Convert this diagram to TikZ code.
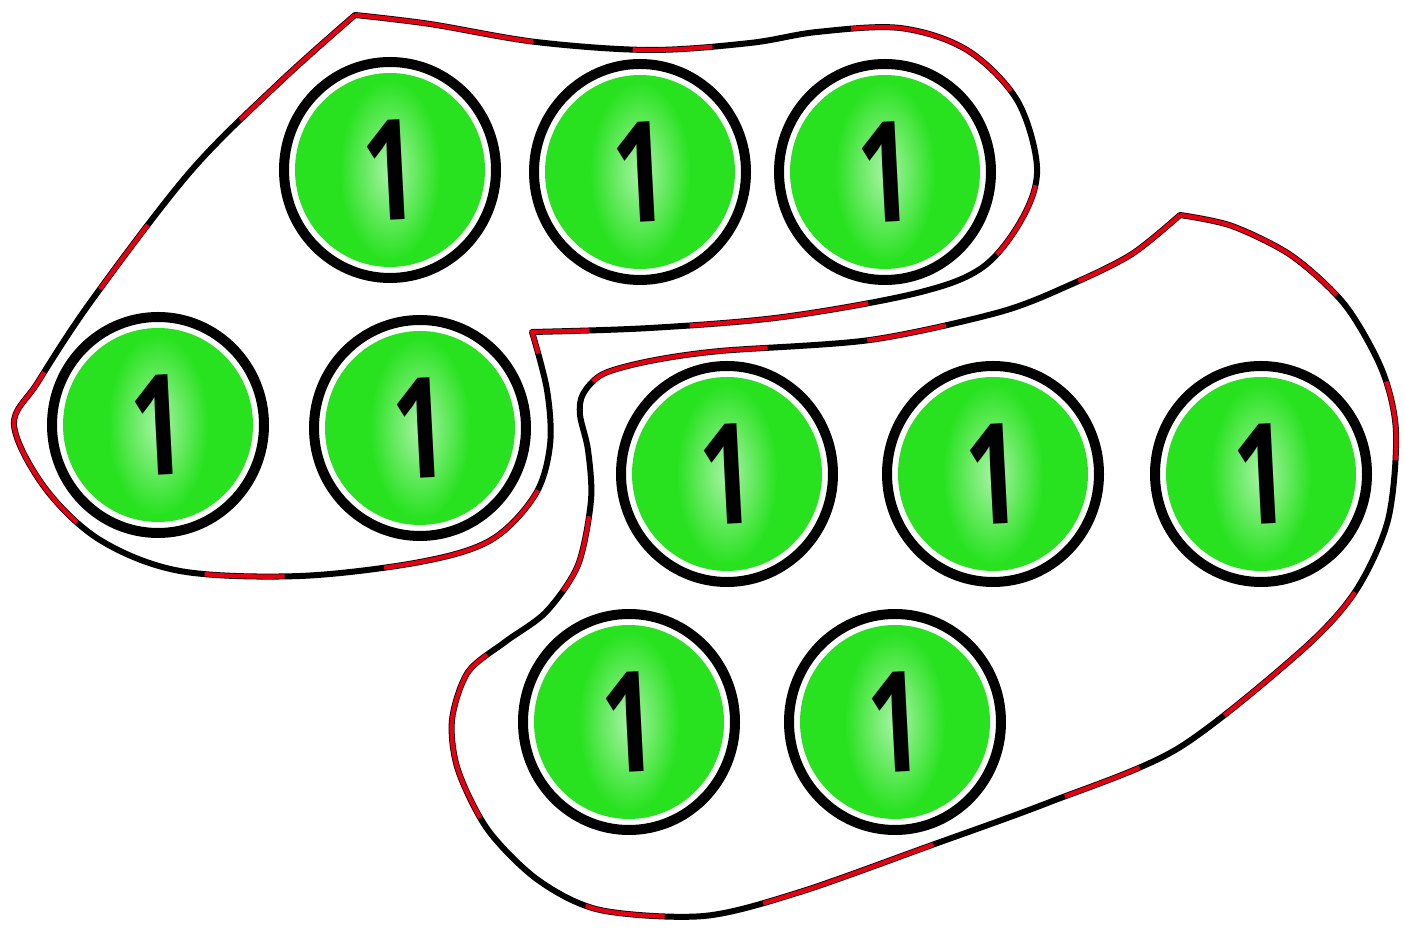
\documentclass[tikz,border=0pt]{standalone}
\usepackage{fontspec}
\setmainfont{Open Sans}
\usetikzlibrary{shapes.geometric}
\definecolor{eyegreen}{RGB}{40,226,32}
\definecolor{outred}{RGB}{228,0,18}
\begin{document}
\begin{tikzpicture}[x=0.5pt,y=-0.5pt,
  blobline/.style={draw=black, line width=3pt, line join=round,
    postaction={draw=outred, line width=2.2pt, dash pattern=on 90pt off 50pt on 40pt off 70pt}},
  ring/.style={ellipse, draw=black, line width=5pt, fill=white, minimum width=106pt, minimum height=108pt, inner sep=0pt},
  iris/.style={ellipse, fill=eyegreen, minimum width=95pt, minimum height=97pt, inner sep=0pt},
  halo/.style={ellipse, minimum width=50pt, minimum height=90pt, inner sep=0pt, shading=radial, inner color=white!60!eyegreen, outer color=eyegreen},
  glyph/.style={inner sep=0pt, rotate=3, font=\fontsize{40}{40}\selectfont\bfseries}
]
\useasboundingbox (0,0) rectangle (1404,929);
\fill[white] (0,0) rectangle (1404,929);

% upper-left group outline
\draw[blobline]
  plot[smooth, tension=0.55] coordinates {(355,15) (430,24) (536,42) (650,50) (750,43) (817,32) (900,28) (967,50) (1017,100) (1037,167) (1023,217) (983,267) (917,293) (783,317) (650,328) (532,332)}
  -- plot[smooth, tension=0.55] coordinates {(532,332) (547,390) (550,445) (535,495) (491,540) (420,562) (300,576) (180,571) (100,540) (45,488) (14,425) (38,382) (92,300) (190,172) (280,82) (355,15)}
  -- cycle;

% lower-right group outline
\draw[blobline]
  plot[smooth, tension=0.5] coordinates {(1180,215) (1232,226) (1292,256) (1345,305) (1382,370) (1396,432) (1388,520) (1355,592) (1300,652) (1177,749) (1050,802) (932,845) (800,892) (704,916) (600,910) (538,880) (488,830) (458,770) (452,720) (468,672) (505,642) (546,612) (578,565) (591,500) (588,450) (580,415) (583,394) (603,374) (650,361) (720,351) (870,340) (1000,312) (1072,284) (1132,254) (1180,215)}
  -- cycle;

% circles
\foreach \n/\cx/\cy in {c1/390/170, c2/640/172, c3/885/172, c4/158/425, c5/420/428, c6/727/474, c7/993/474, c8/1261/474, c9/629/722, c10/895/722}{
  \node[ring] (\n) at (\cx,\cy) {};
  \node[iris] (\n i) at (\n.center) {};
  \node[halo] (\n h) at (\n.center) {};
  \node[glyph] (\n t) at (\n.center) {\scalebox{1.2}[1.75]{1}};
}
\end{tikzpicture}
\end{document}
